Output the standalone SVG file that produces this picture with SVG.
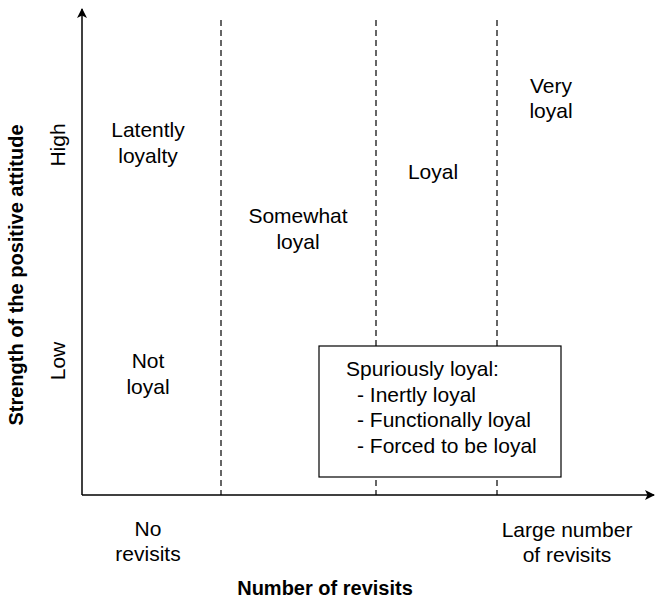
<svg xmlns="http://www.w3.org/2000/svg" width="655" height="598" viewBox="0 0 655 598">
  <style>
    .t { font-family: "Liberation Sans", Arial, Helvetica, sans-serif; font-size: 21px; fill: #000; text-anchor: middle; }
    .b { font-weight: bold; font-size: 20px; }
    .ts { text-anchor: start; }
    .axis { stroke: #000; stroke-width: 1.5; fill: none; }
    .div { stroke: #000; stroke-width: 1.2; stroke-dasharray: 6 4; fill: none; }
  </style>
  <defs>
    <marker id="arrow" viewBox="0 0 10 10" refX="9" refY="5" markerWidth="10" markerHeight="10" markerUnits="userSpaceOnUse" orient="auto">
      <path d="M0,0 L10,5 L0,10 L2.5,5 Z" fill="#000"/>
    </marker>
  </defs>
  <rect width="655" height="598" fill="#fff"/>

  <!-- axes and dividers -->
  <g id="connectors">
    <line class="axis" x1="82" y1="495" x2="82" y2="9" marker-end="url(#arrow)"/>
    <line class="axis" x1="82" y1="495" x2="654" y2="495" marker-end="url(#arrow)"/>
    <line class="div" x1="221" y1="20" x2="221" y2="495"/>
    <line class="div" x1="376" y1="20" x2="376" y2="495"/>
    <line class="div" x1="497" y1="20" x2="497" y2="495"/>
  </g>

  <!-- axis titles -->
  <g id="y-title">
    <text class="t b" transform="translate(23,275) rotate(-90)">Strength of the positive attitude</text>
  </g>
  <g id="y-high">
    <text class="t" transform="translate(65,145) rotate(-90)">High</text>
  </g>
  <g id="y-low">
    <text class="t" transform="translate(65,361) rotate(-90)">Low</text>
  </g>
  <g id="x-title">
    <text class="t b" x="325" y="595">Number of revisits</text>
  </g>
  <g id="x-none">
    <text class="t" x="148" y="536">No</text>
    <text class="t" x="148" y="561">revisits</text>
  </g>
  <g id="x-large">
    <text class="t" x="567" y="537">Large number</text>
    <text class="t" x="567" y="562">of revisits</text>
  </g>

  <!-- segments -->
  <g id="latently-loyal">
    <text class="t" x="148" y="137">Latently</text>
    <text class="t" x="148" y="163">loyalty</text>
  </g>
  <g id="not-loyal">
    <text class="t" x="148" y="368">Not</text>
    <text class="t" x="148" y="394">loyal</text>
  </g>
  <g id="somewhat-loyal">
    <text class="t" x="298" y="223">Somewhat</text>
    <text class="t" x="298" y="249">loyal</text>
  </g>
  <g id="loyal">
    <text class="t" x="433" y="179">Loyal</text>
  </g>
  <g id="very-loyal">
    <text class="t" x="551" y="93">Very</text>
    <text class="t" x="551" y="118">loyal</text>
  </g>
  <g id="spuriously-loyal">
    <rect x="319" y="346" width="242" height="131" fill="#fff" stroke="#000" stroke-width="1.2"/>
    <text class="t ts" x="346" y="376">Spuriously loyal:</text>
    <text class="t ts" x="357" y="402">- Inertly loyal</text>
    <text class="t ts" x="357" y="427">- Functionally loyal</text>
    <text class="t ts" x="357" y="453">- Forced to be loyal</text>
  </g>
</svg>
